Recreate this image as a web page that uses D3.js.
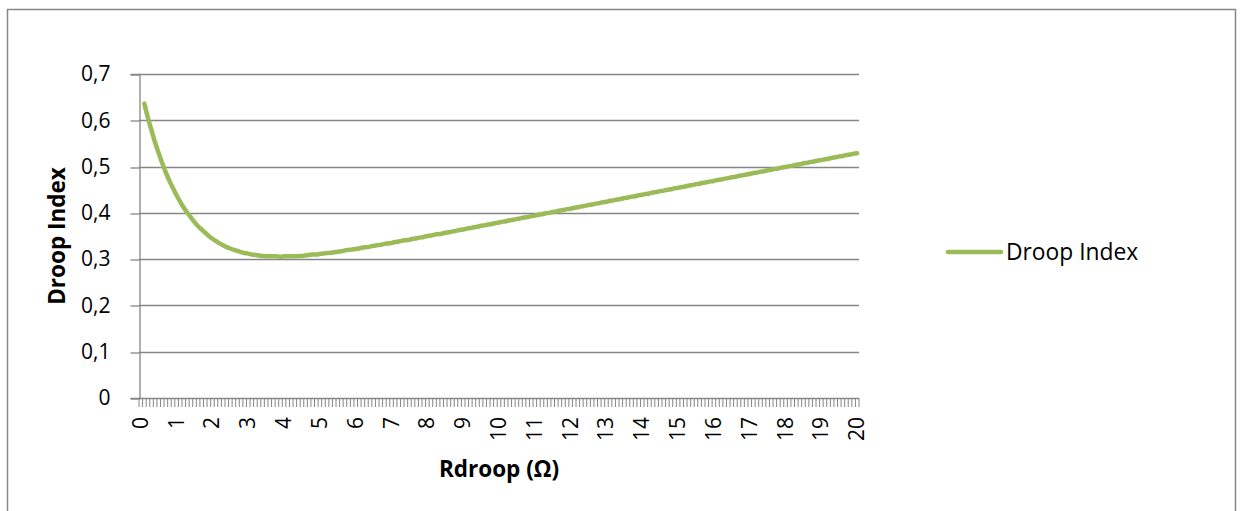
<!DOCTYPE html>
<html>
<head>
<meta charset="utf-8">
<script src="https://cdn.jsdelivr.net/npm/d3@7"></script>
<style>
  html, body { margin: 0; padding: 0; background: #fff; }
  svg { display: block; }
  text { font-family: "Open Sans", "Noto Sans", sans-serif; fill: #000; }
</style>
</head>
<body>
<svg id="chart" width="1240" height="511"></svg>
<script>
// ---- data ----
// categories: Rdroop from 0 to 20 in steps of 0.1 (201 categories)
const categories = d3.range(0, 201).map(i => (i / 10).toFixed(1));
// tick labels shown on the category axis (every 10th category)
const xTickLabels = ["0","1","2","3","4","5","6","7","8","9","10","11","12","13","14","15","16","17","18","19","20"];
const yTicks = [0, 0.1, 0.2, 0.3, 0.4, 0.5, 0.6, 0.7];
const yTickLabels = ["0", "0,1", "0,2", "0,3", "0,4", "0,5", "0,6", "0,7"];
const seriesName = "Droop Index";
// series values (first category has no value)
const droopIndex = [null,
  0.636,0.605,0.578,0.552,0.529,0.507,0.487,0.469,0.453,0.438,
  0.424,0.411,0.400,0.390,0.380,0.371,0.364,0.357,0.350,0.344,
  0.339,0.334,0.330,0.326,0.323,0.320,0.318,0.315,0.313,0.312,
  0.310,0.309,0.308,0.307,0.306,0.306,0.306,0.306,0.305,0.306,
  0.306,0.306,0.306,0.307,0.307,0.308,0.309,0.310,0.310,0.311,
  0.312,0.313,0.314,0.315,0.316,0.317,0.319,0.320,0.321,0.322,
  0.323,0.325,0.326,0.327,0.329,0.330,0.331,0.333,0.334,0.335,
  0.337,0.338,0.340,0.341,0.342,0.344,0.345,0.347,0.348,0.350,
  0.351,0.353,0.354,0.355,0.357,0.358,0.360,0.361,0.363,0.364,
  0.366,0.367,0.369,0.370,0.372,0.373,0.375,0.376,0.378,0.379,
  0.381,0.382,0.384,0.385,0.387,0.388,0.390,0.391,0.393,0.394,
  0.396,0.397,0.399,0.400,0.402,0.403,0.405,0.406,0.408,0.409,
  0.411,0.412,0.414,0.415,0.417,0.418,0.420,0.421,0.423,0.424,
  0.426,0.427,0.429,0.430,0.432,0.433,0.435,0.436,0.438,0.439,
  0.441,0.442,0.444,0.445,0.447,0.448,0.450,0.451,0.453,0.454,
  0.456,0.457,0.459,0.460,0.462,0.463,0.465,0.466,0.468,0.469,
  0.471,0.472,0.474,0.475,0.477,0.478,0.480,0.481,0.483,0.484,
  0.486,0.487,0.489,0.490,0.492,0.493,0.495,0.496,0.498,0.499,
  0.501,0.502,0.504,0.505,0.507,0.508,0.510,0.511,0.513,0.514,
  0.516,0.517,0.519,0.520,0.522,0.523,0.525,0.526,0.528,0.529
];

// ---- layout ----
const svg = d3.select("#chart");
const plot = { left: 139, right: 859, top: 74, bottom: 398 };
const gray = "#868686";
const green = "#9BBB59";

// chart frame
svg.append("rect")
  .attr("x", 7.5).attr("y", 9.5)
  .attr("width", 1228).attr("height", 520)
  .attr("fill", "#fff").attr("stroke", gray).attr("stroke-width", 1.5);

const x = d3.scaleBand().domain(categories).range([plot.left, plot.right]).paddingInner(0).paddingOuter(0);
const y = d3.scaleLinear().domain([0, 0.7]).range([plot.bottom, plot.top]);

// gridlines
svg.append("g").selectAll("line").data(yTicks.slice(1)).join("line")
  .attr("x1", plot.left).attr("x2", plot.right)
  .attr("y1", d => Math.round(y(d)) + 0.5).attr("y2", d => Math.round(y(d)) + 0.5)
  .attr("stroke", gray).attr("stroke-width", 1.3);

// y axis
const yAxis = d3.axisLeft(y).tickValues(yTicks)
  .tickFormat((d, i) => yTickLabels[i]).tickSize(9).tickPadding(20);
const gy = svg.append("g").attr("transform", `translate(${plot.left + 0.5},0)`).call(yAxis);
gy.select(".domain").attr("stroke", gray).attr("stroke-width", 1.3);
gy.selectAll(".tick line").attr("stroke", gray).attr("stroke-width", 1.3)
  .attr("transform", function(d){ return `translate(0,${Math.round(y(d)) + 0.5 - y(d)})`; });
gy.selectAll(".tick text").attr("font-size", 21).attr("font-family", "Open Sans").attr("fill", "#000");

// x axis: tick marks at category boundaries
const boundaries = d3.range(0, categories.length + 1);
const step = x.step();
svg.append("g").selectAll("line").data(boundaries).join("line")
  .attr("x1", i => plot.left + i * step).attr("x2", i => plot.left + i * step)
  .attr("y1", plot.bottom).attr("y2", plot.bottom + 9)
  .attr("stroke", gray).attr("stroke-width", 1);
svg.append("line")
  .attr("x1", plot.left).attr("x2", plot.right)
  .attr("y1", plot.bottom + 0.5).attr("y2", plot.bottom + 0.5)
  .attr("stroke", gray).attr("stroke-width", 1.5);

// x tick labels (every 10th category), rotated
const labelCats = xTickLabels.map(l => (+l).toFixed(1));
svg.append("g").selectAll("text").data(labelCats).join("text")
  .attr("transform", d => `translate(${x(d) + x.bandwidth() / 2 + 7},${plot.bottom + 19}) rotate(-90)`)
  .attr("text-anchor", "end")
  .attr("font-size", 21)
  .text((d, i) => xTickLabels[i]);

// line
const line = d3.line()
  .defined(d => d.v !== null)
  .x(d => x(d.c) + x.bandwidth() / 2)
  .y(d => y(d.v))
  .curve(d3.curveMonotoneX);
svg.append("path")
  .datum(categories.map((c, i) => ({ c, v: droopIndex[i] })))
  .attr("d", line)
  .attr("fill", "none").attr("stroke", green).attr("stroke-width", 4.5)
  .attr("stroke-linecap", "round").attr("stroke-linejoin", "round");

// axis titles
svg.append("text")
  .attr("x", (plot.left + plot.right) / 2).attr("y", 477)
  .attr("text-anchor", "middle").attr("font-size", 22.5).attr("font-weight", "bold")
  .text("Rdroop (Ω)");
svg.append("text")
  .attr("transform", `translate(65,${(plot.top + plot.bottom) / 2}) rotate(-90)`)
  .attr("text-anchor", "middle").attr("font-size", 22.5).attr("font-weight", "bold")
  .text("Droop Index");

// legend
svg.append("line")
  .attr("x1", 948).attr("x2", 1001).attr("y1", 252).attr("y2", 252)
  .attr("stroke", green).attr("stroke-width", 4.5).attr("stroke-linecap", "round");
svg.append("text")
  .attr("x", 1006).attr("y", 260)
  .attr("font-size", 22.8)
  .text(seriesName);
</script>
</body>
</html>
